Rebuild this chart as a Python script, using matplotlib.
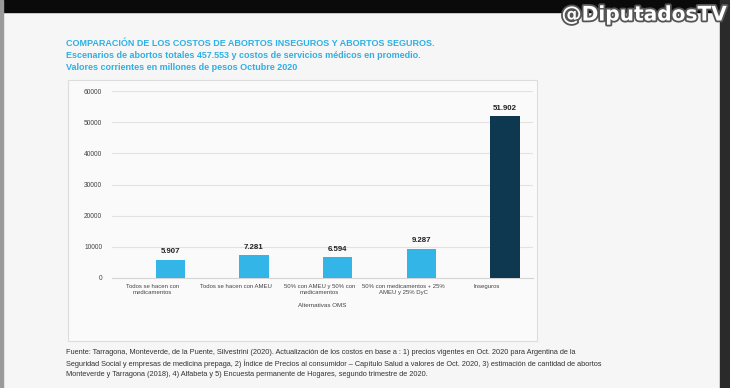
import matplotlib
matplotlib.use("Agg")
import matplotlib.pyplot as plt
from matplotlib.patches import Rectangle
import matplotlib.patheffects as pe

categories = ["Todos se hacen con\nmedicamentos", "Todos se hacen con AMEU",
              "50% con AMEU y 50% con\nmedicamentos", "50% con medicamentos + 25%\nAMEU y 25% DyC",
              "Inseguros"]
values = [5907, 7281, 6594, 9287, 51902]
value_labels = ["5.907", "7.281", "6.594", "9.287", "51.902"]
yticks = [0, 10000, 20000, 30000, 40000, 50000, 60000]

title_lines = ["COMPARACIÓN DE LOS COSTOS DE ABORTOS INSEGUROS Y ABORTOS SEGUROS.",
               "Escenarios de abortos totales 457.553 y costos de servicios médicos en promedio.",
               "Valores corrientes en millones de pesos Octubre 2020"]
foot_lines = ["Fuente: Tarragona, Monteverde, de la Puente, Silvestrini (2020). Actualización de los costos en base a : 1) precios vigentes en Oct. 2020 para Argentina de la",
              "Seguridad Social y empresas de medicina prepaga, 2) Índice de Precios al consumidor – Capítulo Salud a valores de Oct. 2020, 3) estimación de cantidad de abortos",
              "Monteverde y Tarragona (2018), 4) Alfabeta y 5) Encuesta permanente de Hogares, segundo trimestre de 2020."]

W, H = 730, 388
fig = plt.figure(figsize=(7.3, 3.88), dpi=100)
fig.patch.set_facecolor("#f6f6f6")

def fx(x): return x / W
def fy(y): return 1 - y / H

# frame elements
fig.add_artist(Rectangle((0, fy(12)), 1, 12 / H, transform=fig.transFigure, color="#0a0a0a", zorder=0))
fig.add_artist(Rectangle((fx(720), 0), 10 / W, fy(0), transform=fig.transFigure, color="#2a2a2a", zorder=0))
fig.add_artist(Rectangle((0, 0), 3 / W, 1, transform=fig.transFigure, color="#9a9a9a", zorder=0))
# chart box
fig.add_artist(Rectangle((fx(68), fy(341)), (537 - 68) / W, (341 - 80) / H, transform=fig.transFigure,
                         facecolor="#fafafa", edgecolor="#dddddd", lw=0.8, zorder=0))

t = fig.text(fx(727), fy(15), "@DiputadosTV", ha="right", va="center", fontsize=14.5,
             fontweight="bold", color="white", family="DejaVu Sans")
t.set_path_effects([pe.Stroke(linewidth=2.6, foreground="#555555"), pe.Normal()])

for i, line in enumerate(title_lines):
    fig.text(fx(66), fy(44 + i * 11.5), line, ha="left", va="center", fontsize=6.5,
             fontweight="bold", color="#2fb0e4", family="Liberation Sans")

for i, line in enumerate(foot_lines):
    fig.text(fx(66), fy(352.5 + i * 11), line, ha="left", va="center", fontsize=5.3,
             color="#333333", family="Liberation Sans")

ax = fig.add_axes([fx(112), fy(278), (533 - 112) / W, (278 - 91) / H])
ax.set_facecolor("none")
colors = ["#33b5e8"] * 4 + ["#0d3850"]
x = list(range(len(categories)))
bar_x = [xi + 0.215 for xi in x]
ax.bar(bar_x, values, width=0.35, color=colors, zorder=3)
for xi, v, lab in zip(bar_x, values, value_labels):
    ax.text(xi, v + 1500, lab, ha="center", va="bottom", fontsize=5.7, fontweight="bold",
            color="#222222", family="Liberation Sans")
ax.set_ylim(0, 60000)
ax.set_xlim(-0.48, 4.55)
ax.set_yticks(yticks)
ax.set_yticklabels([str(v) for v in yticks], fontsize=4.8, color="#444444", family="Liberation Sans")
ax.set_xticks(x)
ax.set_xticklabels(categories, fontsize=4.3, color="#444444", family="Liberation Sans", linespacing=1.35)
ax.tick_params(length=0, pad=4)
ax.tick_params(axis="y", pad=7)
ax.grid(axis="y", color="#e2e2e2", lw=0.8, zorder=0)
for s in ["top", "right", "left"]:
    ax.spines[s].set_visible(False)
ax.spines["bottom"].set_color("#d5d5d5")
ax.set_xlabel("Alternativas OMS", fontsize=4.5, color="#444444", family="Liberation Sans", labelpad=6)

fig.savefig("out.png", dpi=100, facecolor=fig.get_facecolor())
